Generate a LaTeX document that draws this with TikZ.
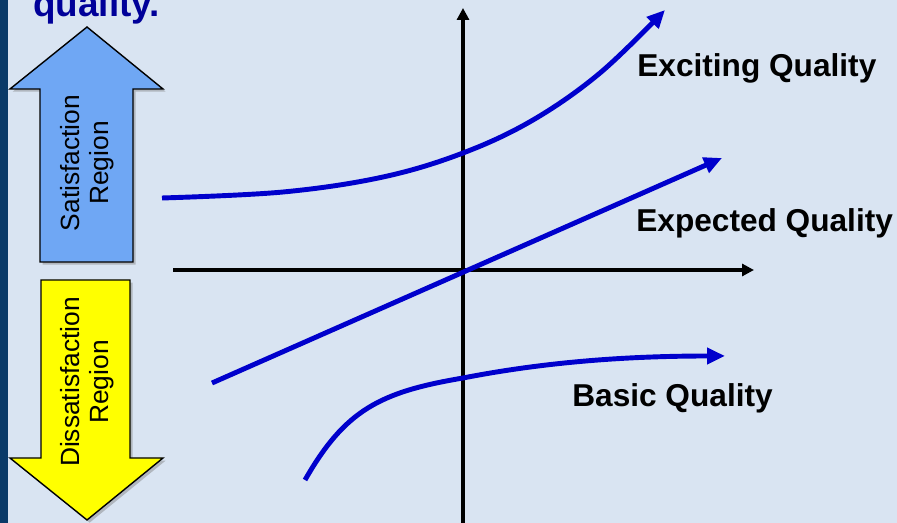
\documentclass[tikz,border=0pt]{standalone}
\usepackage{fontspec}
\setmainfont{Liberation Sans}
\usetikzlibrary{arrows.meta, shadows}
\definecolor{kanoBg}{HTML}{D9E4F2}
\definecolor{kanoBar}{HTML}{0A3A68}
\definecolor{kanoBlue}{HTML}{0000CC}
\definecolor{kanoTitle}{HTML}{000099}
\definecolor{kanoSky}{HTML}{6FA7F4}
\definecolor{kanoYellow}{HTML}{FFFF00}

\tikzset{
  axisline/.style={line width=2pt, -{Triangle[length=0.24cm, width=0.24cm]}},
  curveline/.style={kanoBlue, line width=2.8pt, -{Triangle[length=0.36cm, width=0.32cm]}},
  regionarrow/.style={draw=black, line width=0.8pt, line join=miter,
    drop shadow={shadow xshift=1.5pt, shadow yshift=-1.5pt, opacity=0.45}},
  regiontext/.style={rotate=90, align=center, inner sep=0pt,
    font=\fontsize{15}{16.5}\selectfont},
  qlabel/.style={anchor=base west, inner sep=0pt,
    font=\fontsize{18}{21}\selectfont\bfseries}
}

\begin{document}
\begin{tikzpicture}[x=0.02cm, y=-0.02cm]
  % page and background
  \useasboundingbox (0,0) rectangle (897,523);
  \clip (0,0) rectangle (897,523);
  \fill[kanoBg] (0,0) rectangle (897,523);
  \fill[kanoBar] (0,0) rectangle (7.5,523);

  % title line, cut at the top
  \node[anchor=base west, inner sep=0pt, text=kanoTitle,
    font=\fontsize{21}{24}\selectfont\bfseries] (title) at (33,17) {quality.};

  % satisfaction / dissatisfaction arrows
  \filldraw[regionarrow, fill=kanoSky]
    (87,27) -- (163,89) -- (133,89) -- (133,262) -- (40,262) -- (40,89) -- (10,89) -- cycle;
  \filldraw[regionarrow, fill=kanoYellow]
    (41,280) -- (130,280) -- (130,458) -- (163,458) -- (87,520) -- (10,458) -- (41,458) -- cycle;
  \node[regiontext] (satis) at (87,163) {Satisfaction\\Region};
  \node[regiontext] (dissatis) at (87,382) {Dissatisfaction\\Region};

  % axes
  \coordinate (origin) at (463,270);
  \coordinate (ybottom) at (463,530);
  \coordinate (ytop) at (463,8);
  \coordinate (xleft) at (173,270);
  \coordinate (xright) at (754,270);
  \draw[axisline] (ybottom) -- (ytop);
  \draw[axisline] (xleft) -- (xright);

  % quality curves
  \draw[curveline] plot[smooth, tension=0.6] coordinates
    {(162,198) (283,192) (383,177) (463,153) (533,120) (600,73) (665,10)};
  \draw[curveline] (212,383) -- (722,158);
  \draw[curveline] (305,480) .. controls (345,410) and (380,392) .. (463,378)
    .. controls (540,363) and (620,356) .. (725,356);

  % labels
  \node[qlabel] (exciting) at (637,77) {Exciting Quality};
  \node[qlabel] (expected) at (636,232) {Expected Quality};
  \node[qlabel] (basic) at (572,407) {Basic Quality};
\end{tikzpicture}
\end{document}
